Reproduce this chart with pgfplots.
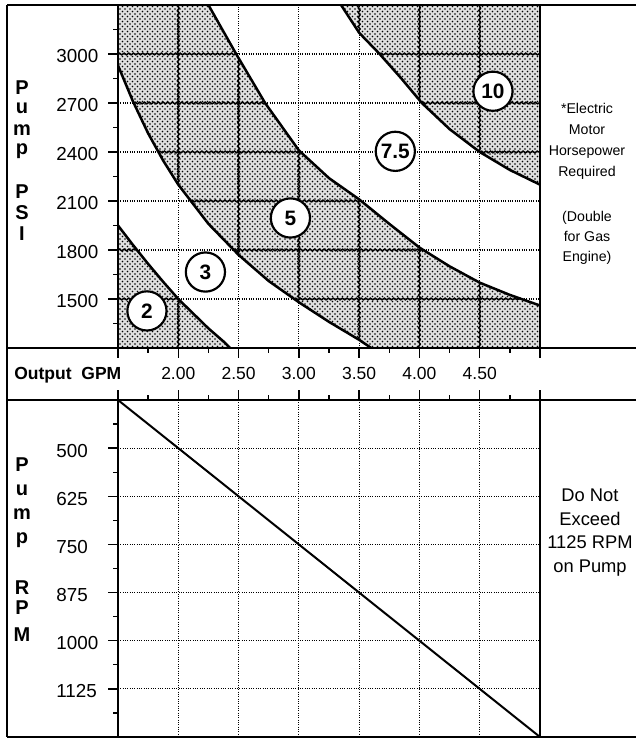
\documentclass[border=0pt]{standalone}
\usepackage{fontspec}
\setmainfont{Liberation Sans}
\usepackage{pgfplots}
\pgfplotsset{compat=1.18}
\usetikzlibrary{patterns,decorations.pathmorphing}

\pgfplotsset{
  shade/.style={draw=none, fill=black!12, postaction={pattern=crosshatch dots, pattern color=black}},
  wavy/.style={black, line width=0.9pt, decorate, decoration={snake, amplitude=0.5pt, segment length=2.8pt}},
  hp/.style={black, line width=1.5pt},
}
\tikzset{
  circ/.style={circle, draw=black, line width=1.3pt, fill=white, minimum size=23.5pt, inner sep=0pt, font=\bfseries\fontsize{12.5}{12.5}\selectfont},
}
\newcommand\yl[1]{\makebox[2.25em][l]{#1}}
\newcommand\wv[4]{\addplot[wavy] coordinates {(#1,#2) (#3,#4)};}
\newcommand\lt[3]{\node[font=\bfseries\fontsize{12}{12}\selectfont, inner sep=0pt] at (#1pt,#2pt) {#3};}

\begin{document}
\begin{tikzpicture}
\useasboundingbox (0,0) rectangle (381.6pt,443.4pt);
% ---------------- top panel: Pump PSI vs Output GPM
\begin{axis}[
  at={(70.8pt,234.6pt)}, anchor=south west,
  width=253.2pt, height=205.8pt, scale only axis,
  xmin=1.5, xmax=5, ymin=1200, ymax=3300,
  xtick={1.5,2,2.5,3,3.5,4,4.5,5},
  xticklabels={,2.00,2.50,3.00,3.50,4.00,4.50,},
  minor xtick={1.75,2.25,2.75,3.25,3.75,4.25,4.75},
  ytick={1500,1800,2100,2400,2700,3000},
  yticklabels={\yl{1500},\yl{1800},\yl{2100},\yl{2400},\yl{2700},\yl{3000}},
  minor ytick={1350,1650,1950,2250,2550,2850,3150},
  xtick pos=bottom, ytick pos=left, tick align=outside,
  major tick length=6pt, minor tick length=3pt,
  tick style={black, line width=0.8pt},
  axis line style={line width=1.2pt},
  grid=major,
  major grid style={black, densely dotted, line width=0.7pt},
  xticklabel style={font=\fontsize{10.5}{12}\selectfont, yshift=-2pt},
  yticklabel style={font=\fontsize{11.3}{12}\selectfont, xshift=-2pt, yshift=-1.5pt},
]
% shaded horsepower bands
\addplot[shade] coordinates {(1.5,1200) (1.5,1950) (1.625,1830) (1.75,1715) (1.875,1605) (2.0,1500) (2.125,1410) (2.25,1320) (2.375,1240) (2.43,1200)} -- cycle;
\addplot[shade] coordinates {(1.5,3300) (2.25,3300) (2.48,3000) (2.72,2700) (3.0,2410) (3.25,2240) (3.5,2110) (3.75,1960) (4.0,1815) (4.25,1700) (4.5,1600) (4.75,1525) (5.0,1460) (5.0,1200) (3.6,1200) (3.5,1250) (3.25,1360) (3.0,1480) (2.75,1610) (2.5,1770) (2.25,1960) (2.0,2200) (1.875,2347) (1.75,2514) (1.625,2708) (1.5,2930)} -- cycle;
\addplot[shade] coordinates {(3.35,3300) (3.5,3130) (3.67,3000) (3.85,2850) (4.02,2700) (4.25,2540) (4.5,2400) (4.75,2290) (5.0,2200) (5.0,3300)} -- cycle;
% grid lines inside shaded bands
\wv{1.5}{1500}{2.0}{1500}
\wv{1.5}{1800}{1.658}{1800}
\wv{2}{1200}{2}{1500}
\wv{1.5}{3000}{2.48}{3000}
\wv{1.630}{2700}{2.72}{2700}
\wv{1.835}{2400}{3.015}{2400}
\wv{2.104}{2100}{3.517}{2100}
\wv{2.461}{1800}{4.033}{1800}
\wv{2.962}{1500}{4.846}{1500}
\wv{2}{2200}{2}{3300}
\wv{2.5}{1770}{2.5}{2975}
\wv{3}{1480}{3}{2410}
\wv{3.5}{1250}{3.5}{2110}
\wv{4}{1200}{4}{1815}
\wv{4.5}{1200}{4.5}{1600}
\wv{3.67}{3000}{5}{3000}
\wv{4.02}{2700}{5}{2700}
\wv{4.5}{2400}{5}{2400}
\wv{3.5}{3130}{3.5}{3300}
\wv{4}{2718}{4}{3300}
\wv{4.5}{2400}{4.5}{3300}
% boundary curves
\addplot[hp] coordinates {(1.5,1950) (1.625,1830) (1.75,1715) (1.875,1605) (2.0,1500) (2.125,1410) (2.25,1320) (2.375,1240) (2.43,1200)};
\addplot[hp] coordinates {(1.5,2930) (1.625,2708) (1.75,2514) (1.875,2347) (2.0,2200) (2.25,1960) (2.5,1770) (2.75,1610) (3.0,1480) (3.25,1360) (3.5,1250) (3.6,1200)};
\addplot[hp] coordinates {(2.25,3300) (2.48,3000) (2.72,2700) (3.0,2410) (3.25,2240) (3.5,2110) (3.75,1960) (4.0,1815) (4.25,1700) (4.5,1600) (4.75,1525) (5.0,1460)};
\addplot[hp] coordinates {(3.35,3300) (3.5,3130) (3.67,3000) (3.85,2850) (4.02,2700) (4.25,2540) (4.5,2400) (4.75,2290) (5.0,2200)};
% horsepower labels
\node[circ] at (axis cs:1.74,1427) {2};
\node[circ] at (axis cs:2.225,1665) {3};
\node[circ] at (axis cs:2.93,1996) {5};
\node[circ] at (axis cs:3.8,2404) {7.5};
\node[circ] at (axis cs:4.61,2772) {10};
\end{axis}
% ---------------- bottom panel: Pump RPM vs Output GPM
\begin{axis}[
  at={(70.8pt,1.2pt)}, anchor=south west,
  width=253.2pt, height=202.2pt, scale only axis,
  xmin=1.5, xmax=5, ymin=375, ymax=1250, y dir=reverse,
  xtick={1.5,2,2.5,3,3.5,4,4.5,5},
  xticklabels={,,,,,,,},
  minor xtick={1.75,2.25,2.75,3.25,3.75,4.25,4.75},
  ytick={500,625,750,875,1000,1125},
  yticklabels={\yl{500},\yl{625},\yl{750},\yl{875},\yl{1000},\yl{1125}},
  minor ytick={437.5,562.5,687.5,812.5,937.5,1062.5,1187.5},
  xtick pos=top, ytick pos=left, tick align=outside,
  major tick length=6pt, minor tick length=3pt,
  tick style={black, line width=0.8pt},
  axis line style={line width=1.2pt},
  grid=major,
  major grid style={black, densely dotted, line width=0.7pt},
  yticklabel style={font=\fontsize{11.3}{12}\selectfont, xshift=-2pt, yshift=-1.5pt},
]
\addplot[black, line width=1.2pt] coordinates {(1.5,375) (5,1250)};
\end{axis}
% ---------------- frame lines
\draw[line width=1.2pt] (4.2pt,1.2pt) -- (4.2pt,440.4pt);
\draw[line width=1.2pt] (4.2pt,440.4pt) -- (381.6pt,440.4pt);
\draw[line width=1.2pt] (4.2pt,234.6pt) -- (381.6pt,234.6pt);
\draw[line width=1.2pt] (4.2pt,203.4pt) -- (381.6pt,203.4pt);
\draw[line width=1.2pt] (4.2pt,1.2pt) -- (381.6pt,1.2pt);
\draw[line width=1.2pt] (70.8pt,234.6pt) rectangle (324pt,440.4pt);
\draw[line width=1.2pt] (70.8pt,1.2pt) rectangle (324pt,203.4pt);
% ---------------- axis titles as stacked letters
\lt{13.2}{390.6}{P}
\lt{13.2}{378.6}{u}
\lt{13.2}{365.4}{m}
\lt{13.2}{352.8}{p}
\lt{13.2}{328.2}{P}
\lt{13.2}{315.6}{S}
\lt{13.2}{303.0}{I}
\lt{13.2}{164.4}{P}
\lt{13.2}{149.4}{u}
\lt{13.2}{135.0}{m}
\lt{13.2}{119.4}{p}
\lt{13.2}{90.6}{R}
\lt{13.2}{78.6}{P}
\lt{13.2}{62.4}{M}
\node[anchor=west, font=\bfseries\fontsize{10.5}{12}\selectfont, inner sep=0pt] at (8.4pt,218.4pt) {Output\ \ GPM};
% ---------------- side notes
\node[align=center, font=\fontsize{8.5}{12.6}\selectfont] at (352.2pt,358.5pt) {*Electric\\Motor\\Horsepower\\Required};
\node[align=center, font=\fontsize{8.5}{12}\selectfont] at (352.2pt,300.6pt) {(Double\\for Gas\\Engine)};
\node[align=center, font=\fontsize{11}{14.2}\selectfont] at (354pt,123.8pt) {Do Not\\Exceed\\1125 RPM\\on Pump};
\end{tikzpicture}
\end{document}
